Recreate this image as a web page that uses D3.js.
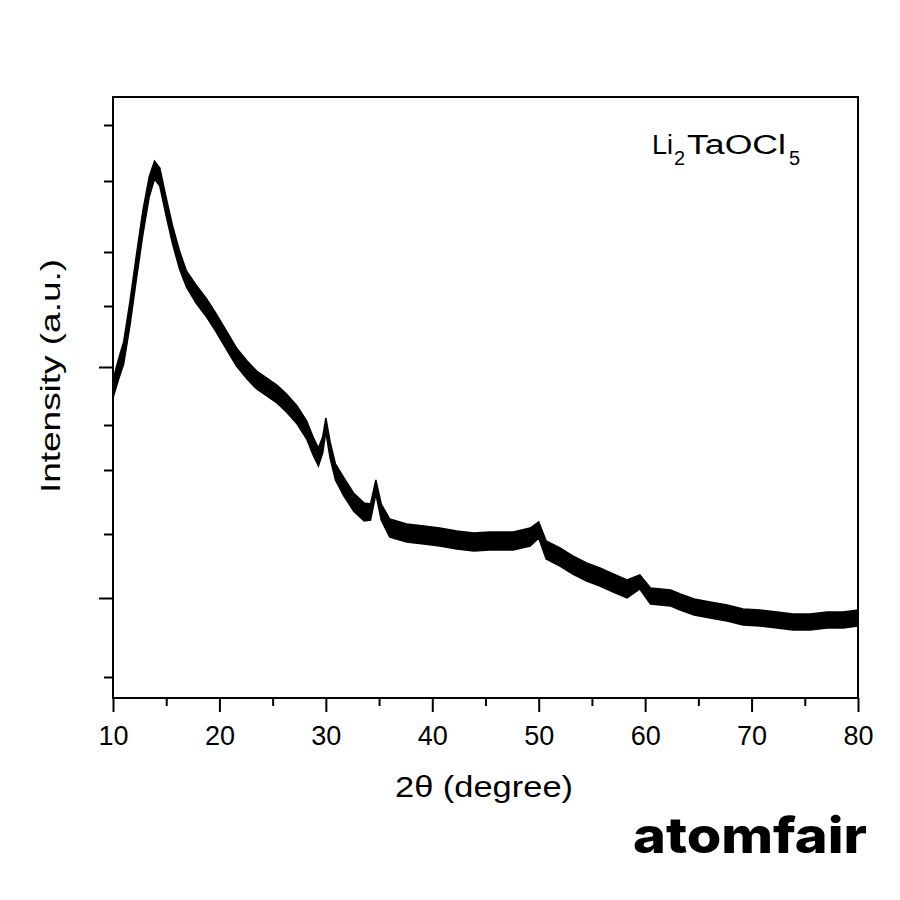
<!DOCTYPE html>
<html>
<head>
<meta charset="utf-8">
<script src="https://cdn.jsdelivr.net/npm/d3@7"></script>
<style>
  body { margin: 0; background: #fff; }
  text { font-family: "Liberation Sans", Arial, sans-serif; fill: #000; }
</style>
</head>
<body>
<div id="chart"></div>
<script>
// 2theta positions (degree)
var twoTheta = [10.0, 10.5, 11.0, 11.6, 12.2, 12.8, 13.4, 13.9, 14.4, 15.0,
  15.6, 16.25, 16.9, 17.8, 18.8, 19.7, 20.65, 21.6, 22.6, 23.5,
  24.45, 25.4, 26.3, 27.3, 28.2, 28.8, 29.3, 29.7, 30.0, 30.4,
  30.9, 31.7, 32.6, 33.6, 34.2, 34.7, 35.2, 36.0, 37.6, 39.2,
  40.7, 42.3, 43.9, 45.4, 47.6, 49.2, 50.0, 50.7, 52.0, 53.2,
  54.5, 55.75, 57.0, 58.3, 59.5, 60.5, 62.4, 63.3, 64.6, 66.1,
  67.7, 69.2, 70.8, 72.4, 73.9, 75.5, 77.1, 78.6, 80.0];

// mean intensity (a.u.)
var intensity = [309, 328, 345, 385, 431, 475, 511, 528, 521, 491,
  463, 438, 419, 404, 390, 375, 358, 341, 328, 318,
  311, 304, 295, 283, 268, 252, 241, 253, 273, 248,
  226, 211, 196, 186, 186, 211, 186, 170, 165, 163,
  161, 158, 156, 157, 157, 161, 168, 148, 141, 133,
  126, 121, 115, 109, 116, 102, 100, 96, 91, 88,
  85, 81, 80, 78, 76, 76, 78, 78, 80];

// half spread of the noise band (a.u.)
var noise = [9, 10, 11, 12, 12, 12, 10, 9, 9, 9,
  9, 9, 8, 9, 9, 9, 9, 9, 9, 9,
  9, 9, 9, 9, 9, 9, 9, 8, 7, 8,
  8, 9, 9, 9, 8, 7, 8, 9, 9, 9,
  9, 9, 9, 9, 9, 9, 8, 9, 9, 9,
  9, 9, 9, 9, 7, 8, 8, 8, 8, 8,
  8, 8, 8, 8, 8, 8, 8, 8, 8];

var xTicksMajor = [10, 20, 30, 40, 50, 60, 70, 80];
var xTicksMinor = [15, 25, 35, 45, 55, 65, 75];
var yTicksMajor = [100, 331];
var yTicksMinor = [21, 164, 228, 273, 392, 446, 517, 573];

var w = 900, h = 900;
var pLeft = 113, pRight = 858, pTop = 97, pBottom = 698;

var svg = d3.select("#chart").append("svg")
  .attr("width", w)
  .attr("height", h);

svg.append("rect").attr("width", w).attr("height", h).attr("fill", "#fff");

var x = d3.scaleLinear().domain([10, 80]).range([pLeft, pRight]);
var y = d3.scaleLinear().domain([0, 601]).range([pBottom, pTop]);

var data = twoTheta.map(function(t, i) {
  return { t: t, v: intensity[i], n: noise[i] };
});

// noise band
var band = d3.area()
  .x(function(d) { return x(d.t); })
  .y0(function(d) { return y(d.v - d.n); })
  .y1(function(d) { return y(d.v + d.n); });

svg.append("clipPath").attr("id", "plotclip")
  .append("rect")
  .attr("x", pLeft).attr("y", pTop)
  .attr("width", pRight - pLeft).attr("height", pBottom - pTop);

svg.append("path")
  .datum(data)
  .attr("d", band)
  .attr("clip-path", "url(#plotclip)")
  .attr("fill", "#000")
  .attr("stroke", "#000")
  .attr("stroke-width", 1.5)
  .attr("stroke-linejoin", "miter");

// frame
svg.append("rect")
  .attr("x", pLeft)
  .attr("y", pTop)
  .attr("width", pRight - pLeft)
  .attr("height", pBottom - pTop)
  .attr("fill", "none")
  .attr("stroke", "#000")
  .attr("stroke-width", 2);

// x axis
var xaxis = svg.append("g")
  .attr("transform", "translate(0," + pBottom + ")");
xaxis.call(d3.axisBottom(x).tickValues(xTicksMajor).tickSize(14).tickPadding(0).tickSizeOuter(0));
xaxis.append("g").call(d3.axisBottom(x).tickValues(xTicksMinor).tickSize(8).tickFormat("").tickSizeOuter(0));
xaxis.selectAll(".domain").remove();
xaxis.selectAll("line").attr("stroke", "#000").attr("stroke-width", 2);
xaxis.selectAll("text")
  .attr("y", 47)
  .attr("dy", null)
  .attr("font-size", 27)
  .attr("font-family", "Liberation Sans, Arial, sans-serif")
  .attr("fill", "#000");

// y axis (no labels)
var yaxis = svg.append("g")
  .attr("transform", "translate(" + pLeft + ",0)");
yaxis.call(d3.axisLeft(y).tickValues(yTicksMajor).tickSize(14).tickFormat("").tickSizeOuter(0));
yaxis.append("g").call(d3.axisLeft(y).tickValues(yTicksMinor).tickSize(9).tickFormat("").tickSizeOuter(0));
yaxis.selectAll(".domain").remove();
yaxis.selectAll("line").attr("stroke", "#000").attr("stroke-width", 2);

// axis titles
svg.append("text")
  .attr("x", 484)
  .attr("y", 797)
  .attr("text-anchor", "middle")
  .attr("font-size", 30)
  .attr("textLength", 178)
  .attr("lengthAdjust", "spacingAndGlyphs")
  .text("2θ (degree)");

svg.append("text")
  .attr("transform", "translate(60,376) rotate(-90)")
  .attr("text-anchor", "middle")
  .attr("font-size", 28)
  .attr("textLength", 234)
  .attr("lengthAdjust", "spacingAndGlyphs")
  .text("Intensity (a.u.)");

// sample label Li2TaOCl5 as one text
var lbl = svg.append("text").attr("y", 154).attr("font-size", 27);
lbl.append("tspan").attr("x", 652).text("Li");
lbl.append("tspan").attr("x", 674).attr("dy", 11).attr("font-size", 20).text("2");
lbl.append("tspan").attr("x", 687).attr("dy", -11)
  .attr("textLength", 99)
  .attr("lengthAdjust", "spacingAndGlyphs")
  .text("TaOCl");
lbl.append("tspan").attr("x", 789).attr("dy", 11).attr("font-size", 20).text("5");

// watermark
svg.append("text")
  .attr("x", 633)
  .attr("y", 853)
  .attr("font-weight", 800)
  .attr("font-size", 50)
  .attr("textLength", 234)
  .attr("lengthAdjust", "spacingAndGlyphs")
  .style("font-family", "Inter, Lato, sans-serif")
  .text("atomfair");
</script>
</body>
</html>
